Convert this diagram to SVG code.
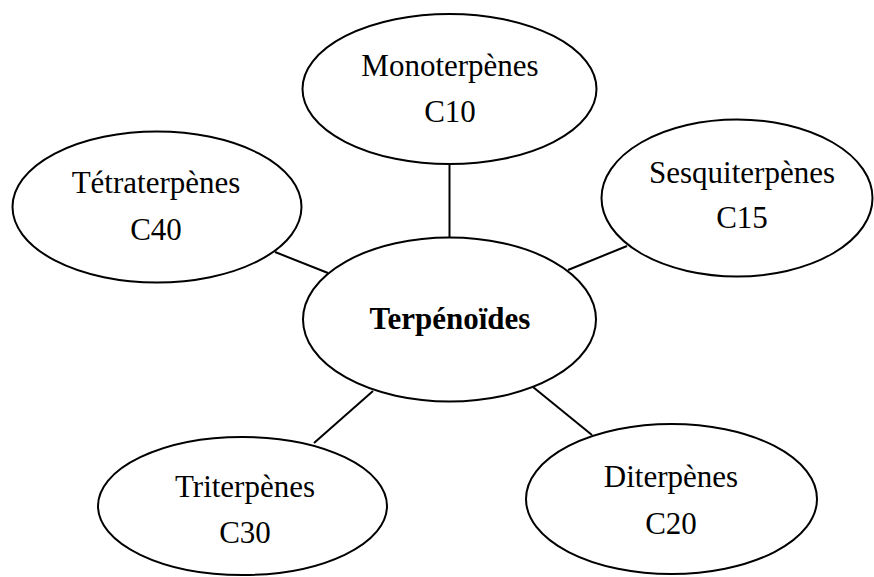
<svg xmlns="http://www.w3.org/2000/svg" width="874" height="577" viewBox="0 0 874 577">
<style>
.n{fill:#fff;stroke:#000;stroke-width:2}
.t{font-family:"Liberation Serif","Times New Roman",serif;font-size:31px;text-anchor:middle;fill:#000}
.b{font-weight:bold}
.c line{stroke:#000;stroke-width:2}
</style>
<rect width="874" height="577" fill="#fff"/>
<g class="c" id="connectors">
<line x1="449.5" y1="164" x2="449.5" y2="238"/>
<line x1="275" y1="252" x2="328" y2="273"/>
<line x1="568" y1="270" x2="627" y2="246"/>
<line x1="373" y1="391" x2="314" y2="443"/>
<line x1="533" y1="387" x2="592" y2="435"/>
</g>
<g id="mono"><ellipse class="n" cx="449.5" cy="89" rx="147" ry="75"/><text class="t" x="450" y="76">Monoterpènes</text><text class="t" x="450" y="122">C10</text></g>
<g id="tetra"><ellipse class="n" cx="157" cy="207" rx="144.5" ry="75.5"/><text class="t" x="156" y="193">Tétraterpènes</text><text class="t" x="156" y="240">C40</text></g>
<g id="sesqui"><ellipse class="n" cx="737" cy="198" rx="135.5" ry="78.5"/><text class="t" x="742" y="183">Sesquiterpènes</text><text class="t" x="742" y="228">C15</text></g>
<g id="terp"><ellipse class="n" cx="449.5" cy="319.5" rx="146.5" ry="82"/><text class="t b" x="450" y="329">Terpénoïdes</text></g>
<g id="tri"><ellipse class="n" cx="242.5" cy="506" rx="144.5" ry="69"/><text class="t" x="245" y="497">Triterpènes</text><text class="t" x="245" y="543">C30</text></g>
<g id="di"><ellipse class="n" cx="671.5" cy="499" rx="145.5" ry="75"/><text class="t" x="671" y="487">Diterpènes</text><text class="t" x="671" y="534">C20</text></g>
</svg>
